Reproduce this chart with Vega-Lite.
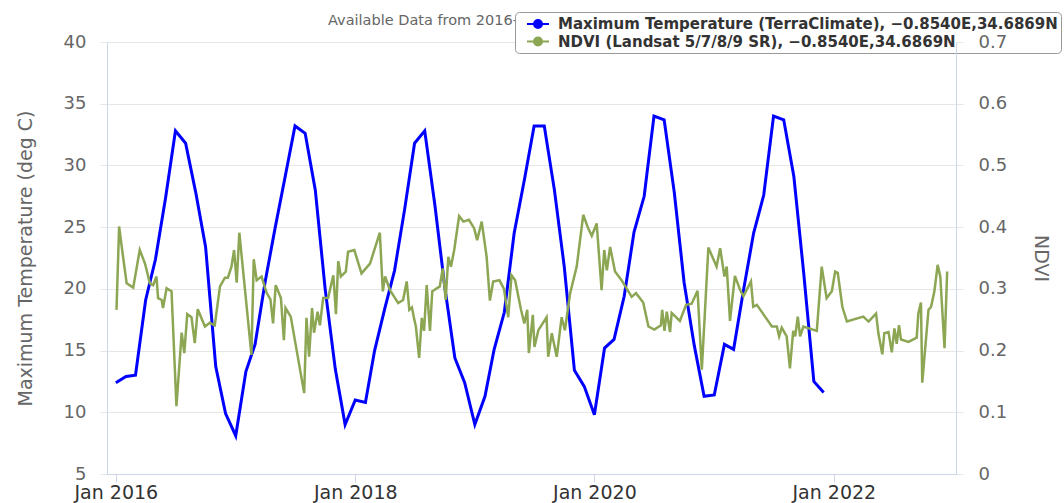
{
  "$schema": "https://vega.github.io/schema/vega-lite/v6.json",
  "width": 849,
  "height": 432,
  "autosize": {"type": "none"},
  "padding": {"left": 107, "top": 42, "right": 108, "bottom": 29},
  "background": "white",
  "title": {
    "text": "Available Data from 2016-01-01 to 2022-12-31",
    "anchor": "start",
    "frame": "group",
    "dx": 221,
    "dy": 48,
    "offset": 20,
    "baseline": "alphabetic",
    "font": "DejaVu Sans",
    "fontSize": 14.5,
    "fontWeight": "normal",
    "color": "#666666",
    "zindex": -1
  },
  "datasets": {
    "temp": [
      {"date": "2016-01-01", "t": 12.4}, {"date": "2016-02-01", "t": 12.9}, {"date": "2016-03-01", "t": 13.0},
      {"date": "2016-04-01", "t": 19.1}, {"date": "2016-05-01", "t": 22.4}, {"date": "2016-06-01", "t": 27.4},
      {"date": "2016-07-01", "t": 32.8}, {"date": "2016-08-01", "t": 31.8}, {"date": "2016-09-01", "t": 27.8},
      {"date": "2016-10-01", "t": 23.4}, {"date": "2016-11-01", "t": 13.7}, {"date": "2016-12-01", "t": 9.9},
      {"date": "2017-01-01", "t": 8.1}, {"date": "2017-02-01", "t": 13.3}, {"date": "2017-03-01", "t": 15.5},
      {"date": "2017-04-01", "t": 20.6}, {"date": "2017-05-01", "t": 24.9}, {"date": "2017-06-01", "t": 29.1},
      {"date": "2017-07-01", "t": 33.2}, {"date": "2017-08-01", "t": 32.6}, {"date": "2017-09-01", "t": 28.0},
      {"date": "2017-10-01", "t": 20.0}, {"date": "2017-11-01", "t": 13.5}, {"date": "2017-12-01", "t": 9.0},
      {"date": "2018-01-01", "t": 11.0}, {"date": "2018-02-01", "t": 10.8}, {"date": "2018-03-01", "t": 15.0},
      {"date": "2018-04-01", "t": 18.4}, {"date": "2018-05-01", "t": 21.5}, {"date": "2018-06-01", "t": 26.5},
      {"date": "2018-07-01", "t": 31.8}, {"date": "2018-08-01", "t": 32.8}, {"date": "2018-09-01", "t": 26.8},
      {"date": "2018-10-01", "t": 20.2}, {"date": "2018-11-01", "t": 14.4}, {"date": "2018-12-01", "t": 12.4},
      {"date": "2019-01-01", "t": 9.0}, {"date": "2019-02-01", "t": 11.3}, {"date": "2019-03-01", "t": 15.1},
      {"date": "2019-04-01", "t": 18.1}, {"date": "2019-05-01", "t": 24.5}, {"date": "2019-06-01", "t": 28.8},
      {"date": "2019-07-01", "t": 33.2}, {"date": "2019-08-01", "t": 33.2}, {"date": "2019-09-01", "t": 28.0},
      {"date": "2019-10-01", "t": 21.8}, {"date": "2019-11-01", "t": 13.4}, {"date": "2019-12-01", "t": 12.1},
      {"date": "2020-01-01", "t": 9.8}, {"date": "2020-02-01", "t": 15.2}, {"date": "2020-03-01", "t": 15.9},
      {"date": "2020-04-01", "t": 19.4}, {"date": "2020-05-01", "t": 24.6}, {"date": "2020-06-01", "t": 27.5},
      {"date": "2020-07-01", "t": 34.0}, {"date": "2020-08-01", "t": 33.7}, {"date": "2020-09-01", "t": 27.8},
      {"date": "2020-10-01", "t": 20.5}, {"date": "2020-11-01", "t": 15.4}, {"date": "2020-12-01", "t": 11.3},
      {"date": "2021-01-01", "t": 11.4}, {"date": "2021-02-01", "t": 15.5}, {"date": "2021-03-01", "t": 15.1},
      {"date": "2021-04-01", "t": 20.0}, {"date": "2021-05-01", "t": 24.5}, {"date": "2021-06-01", "t": 27.6},
      {"date": "2021-07-01", "t": 34.0}, {"date": "2021-08-01", "t": 33.7}, {"date": "2021-09-01", "t": 29.1},
      {"date": "2021-10-01", "t": 21.3}, {"date": "2021-11-01", "t": 12.5}, {"date": "2021-12-01", "t": 11.6}
    ],
    "ndvi": [
      {"date": "2016-01-03", "v": 0.266}, {"date": "2016-01-11", "v": 0.401}, {"date": "2016-01-23", "v": 0.352},
      {"date": "2016-02-03", "v": 0.309}, {"date": "2016-02-23", "v": 0.302}, {"date": "2016-03-14", "v": 0.363},
      {"date": "2016-03-30", "v": 0.341}, {"date": "2016-04-14", "v": 0.309}, {"date": "2016-04-24", "v": 0.306},
      {"date": "2016-05-04", "v": 0.320}, {"date": "2016-05-09", "v": 0.285}, {"date": "2016-05-20", "v": 0.282},
      {"date": "2016-05-24", "v": 0.269}, {"date": "2016-06-04", "v": 0.301}, {"date": "2016-06-19", "v": 0.296},
      {"date": "2016-07-04", "v": 0.110}, {"date": "2016-07-20", "v": 0.229}, {"date": "2016-07-28", "v": 0.196},
      {"date": "2016-08-06", "v": 0.259}, {"date": "2016-08-19", "v": 0.254}, {"date": "2016-08-29", "v": 0.212},
      {"date": "2016-09-07", "v": 0.267}, {"date": "2016-09-29", "v": 0.239}, {"date": "2016-10-14", "v": 0.245},
      {"date": "2016-10-29", "v": 0.241}, {"date": "2016-11-14", "v": 0.304}, {"date": "2016-11-29", "v": 0.318},
      {"date": "2016-12-08", "v": 0.318}, {"date": "2016-12-19", "v": 0.336}, {"date": "2016-12-27", "v": 0.363},
      {"date": "2017-01-04", "v": 0.310}, {"date": "2017-01-12", "v": 0.391}, {"date": "2017-02-18", "v": 0.193},
      {"date": "2017-02-25", "v": 0.348}, {"date": "2017-03-06", "v": 0.314}, {"date": "2017-03-21", "v": 0.320},
      {"date": "2017-04-05", "v": 0.294}, {"date": "2017-04-17", "v": 0.283}, {"date": "2017-04-25", "v": 0.244},
      {"date": "2017-05-03", "v": 0.306}, {"date": "2017-05-19", "v": 0.285}, {"date": "2017-05-28", "v": 0.217},
      {"date": "2017-06-02", "v": 0.269}, {"date": "2017-06-18", "v": 0.255}, {"date": "2017-07-29", "v": 0.131},
      {"date": "2017-08-05", "v": 0.253}, {"date": "2017-08-13", "v": 0.190}, {"date": "2017-08-22", "v": 0.269},
      {"date": "2017-08-28", "v": 0.229}, {"date": "2017-09-08", "v": 0.263}, {"date": "2017-09-15", "v": 0.241},
      {"date": "2017-09-25", "v": 0.285}, {"date": "2017-10-10", "v": 0.285}, {"date": "2017-10-26", "v": 0.322},
      {"date": "2017-11-03", "v": 0.259}, {"date": "2017-11-10", "v": 0.345}, {"date": "2017-11-18", "v": 0.320},
      {"date": "2017-12-03", "v": 0.328}, {"date": "2017-12-10", "v": 0.360}, {"date": "2017-12-29", "v": 0.363},
      {"date": "2018-01-20", "v": 0.325}, {"date": "2018-02-15", "v": 0.341}, {"date": "2018-03-17", "v": 0.391},
      {"date": "2018-03-26", "v": 0.296}, {"date": "2018-04-02", "v": 0.320}, {"date": "2018-04-17", "v": 0.298},
      {"date": "2018-05-12", "v": 0.277}, {"date": "2018-05-27", "v": 0.282}, {"date": "2018-06-07", "v": 0.312},
      {"date": "2018-06-15", "v": 0.266}, {"date": "2018-06-23", "v": 0.270}, {"date": "2018-06-29", "v": 0.253},
      {"date": "2018-07-05", "v": 0.239}, {"date": "2018-07-15", "v": 0.188}, {"date": "2018-07-23", "v": 0.253},
      {"date": "2018-07-30", "v": 0.232}, {"date": "2018-08-07", "v": 0.306}, {"date": "2018-08-17", "v": 0.232},
      {"date": "2018-08-24", "v": 0.296}, {"date": "2018-09-16", "v": 0.304}, {"date": "2018-09-25", "v": 0.333},
      {"date": "2018-10-04", "v": 0.282}, {"date": "2018-10-12", "v": 0.352}, {"date": "2018-10-20", "v": 0.336},
      {"date": "2018-10-30", "v": 0.363}, {"date": "2018-11-14", "v": 0.418}, {"date": "2018-11-27", "v": 0.409},
      {"date": "2018-12-14", "v": 0.412}, {"date": "2018-12-30", "v": 0.398}, {"date": "2019-01-08", "v": 0.379},
      {"date": "2019-01-22", "v": 0.409}, {"date": "2019-02-06", "v": 0.352}, {"date": "2019-02-16", "v": 0.281},
      {"date": "2019-02-26", "v": 0.312}, {"date": "2019-03-17", "v": 0.314}, {"date": "2019-03-31", "v": 0.300},
      {"date": "2019-04-13", "v": 0.254}, {"date": "2019-04-23", "v": 0.322}, {"date": "2019-05-04", "v": 0.314},
      {"date": "2019-05-22", "v": 0.266}, {"date": "2019-06-01", "v": 0.244}, {"date": "2019-06-10", "v": 0.266},
      {"date": "2019-06-15", "v": 0.196}, {"date": "2019-06-27", "v": 0.258}, {"date": "2019-07-02", "v": 0.206},
      {"date": "2019-07-14", "v": 0.233}, {"date": "2019-08-08", "v": 0.254}, {"date": "2019-08-13", "v": 0.190},
      {"date": "2019-08-24", "v": 0.228}, {"date": "2019-09-08", "v": 0.190}, {"date": "2019-09-23", "v": 0.254},
      {"date": "2019-10-03", "v": 0.233}, {"date": "2019-10-19", "v": 0.293}, {"date": "2019-11-08", "v": 0.336},
      {"date": "2019-11-28", "v": 0.420}, {"date": "2019-12-13", "v": 0.398}, {"date": "2019-12-24", "v": 0.386},
      {"date": "2020-01-08", "v": 0.406}, {"date": "2020-01-23", "v": 0.298}, {"date": "2020-01-31", "v": 0.363},
      {"date": "2020-02-08", "v": 0.330}, {"date": "2020-02-18", "v": 0.368}, {"date": "2020-03-04", "v": 0.328},
      {"date": "2020-03-24", "v": 0.314}, {"date": "2020-04-24", "v": 0.287}, {"date": "2020-05-07", "v": 0.293},
      {"date": "2020-05-29", "v": 0.278}, {"date": "2020-06-14", "v": 0.239}, {"date": "2020-07-02", "v": 0.234},
      {"date": "2020-07-22", "v": 0.241}, {"date": "2020-07-26", "v": 0.266}, {"date": "2020-08-02", "v": 0.232},
      {"date": "2020-08-09", "v": 0.263}, {"date": "2020-08-19", "v": 0.230}, {"date": "2020-08-24", "v": 0.261},
      {"date": "2020-09-18", "v": 0.248}, {"date": "2020-10-07", "v": 0.274}, {"date": "2020-10-24", "v": 0.276},
      {"date": "2020-11-11", "v": 0.297}, {"date": "2020-11-24", "v": 0.169}, {"date": "2020-12-14", "v": 0.367},
      {"date": "2021-01-08", "v": 0.336}, {"date": "2021-01-19", "v": 0.366}, {"date": "2021-02-01", "v": 0.320},
      {"date": "2021-02-08", "v": 0.336}, {"date": "2021-02-18", "v": 0.248}, {"date": "2021-03-05", "v": 0.321},
      {"date": "2021-03-21", "v": 0.298}, {"date": "2021-03-31", "v": 0.288}, {"date": "2021-04-23", "v": 0.312},
      {"date": "2021-04-30", "v": 0.271}, {"date": "2021-05-11", "v": 0.274}, {"date": "2021-06-05", "v": 0.255},
      {"date": "2021-06-26", "v": 0.239}, {"date": "2021-07-11", "v": 0.239}, {"date": "2021-07-18", "v": 0.223},
      {"date": "2021-07-26", "v": 0.237}, {"date": "2021-08-10", "v": 0.223}, {"date": "2021-08-20", "v": 0.171},
      {"date": "2021-08-30", "v": 0.232}, {"date": "2021-09-05", "v": 0.223}, {"date": "2021-09-13", "v": 0.255},
      {"date": "2021-09-20", "v": 0.223}, {"date": "2021-09-30", "v": 0.239}, {"date": "2021-11-10", "v": 0.232},
      {"date": "2021-11-25", "v": 0.336}, {"date": "2021-12-10", "v": 0.285}, {"date": "2021-12-26", "v": 0.296},
      {"date": "2022-01-05", "v": 0.328}, {"date": "2022-01-13", "v": 0.326}, {"date": "2022-01-27", "v": 0.271},
      {"date": "2022-02-10", "v": 0.247}, {"date": "2022-04-01", "v": 0.255}, {"date": "2022-04-17", "v": 0.247},
      {"date": "2022-05-10", "v": 0.260}, {"date": "2022-05-17", "v": 0.228}, {"date": "2022-05-29", "v": 0.194},
      {"date": "2022-06-04", "v": 0.228}, {"date": "2022-06-17", "v": 0.230}, {"date": "2022-06-27", "v": 0.197},
      {"date": "2022-07-05", "v": 0.236}, {"date": "2022-07-12", "v": 0.211}, {"date": "2022-07-19", "v": 0.241},
      {"date": "2022-07-25", "v": 0.218}, {"date": "2022-08-17", "v": 0.214}, {"date": "2022-09-11", "v": 0.221},
      {"date": "2022-09-16", "v": 0.260}, {"date": "2022-09-24", "v": 0.278}, {"date": "2022-09-28", "v": 0.148},
      {"date": "2022-10-17", "v": 0.266}, {"date": "2022-10-25", "v": 0.271}, {"date": "2022-11-04", "v": 0.296},
      {"date": "2022-11-14", "v": 0.339}, {"date": "2022-11-22", "v": 0.320}, {"date": "2022-12-05", "v": 0.204},
      {"date": "2022-12-13", "v": 0.328}
    ]
  },
  "layer": [
    {
      "data": {"name": "temp"},
      "mark": {"type": "line", "strokeWidth": 3, "interpolate": "linear"},
      "encoding": {
        "x": {
          "field": "date", "type": "temporal",
          "scale": {"domain": ["2015-12-05", "2023-01-09"]},
          "axis": {
            "title": null, "format": "%b %Y",
            "tickCount": {"interval": "year", "step": 2},
            "grid": false, "domainColor": "#ccd6eb", "tickColor": "#ccd6eb",
            "tickSize": 8, "labelPadding": 1, "labelFont": "DejaVu Sans",
            "labelFontSize": 19, "labelColor": "#333333", "labelFlush": false, "labelOverlap": false
          }
        },
        "y": {
          "field": "t", "type": "quantitative",
          "scale": {"domain": [5, 40], "nice": false, "zero": false},
          "axis": {
            "orient": "left", "values": [5, 10, 15, 20, 25, 30, 35, 40],
            "grid": true, "gridColor": "#e6e6e6", "domainColor": "#ccd6eb",
            "tickColor": "#e6e6e6", "tickSize": 7, "labelPadding": 14,
            "labelFont": "DejaVu Sans", "labelFontSize": 18, "labelColor": "#666666",
            "title": "Maximum Temperature (deg C)", "titleFont": "DejaVu Sans",
            "titleFontSize": 19, "titleFontWeight": "normal", "titleColor": "#666666",
            "titlePadding": 28
          }
        },
        "color": {
          "datum": "Maximum Temperature (TerraClimate), −0.8540E,34.6869N",
          "scale": {
            "domain": ["Maximum Temperature (TerraClimate), −0.8540E,34.6869N", "NDVI (Landsat 5/7/8/9 SR), −0.8540E,34.6869N"],
            "range": ["#0000ff", "#8ca654"]
          },
          "legend": {
            "orient": "none", "legendX": 408, "legendY": -30, "direction": "vertical",
            "title": null,
            "symbolType": "M0,0H2.75M1.875,0A0.5,0.5,0,1,1,0.875,0A0.5,0.5,0,1,1,1.875,0",
            "symbolSize": 256, "symbolStrokeWidth": 2,
            "labelFont": "DejaVu Sans", "labelFontSize": 15, "labelFontWeight": "bold",
            "labelColor": "#333333", "labelOffset": 22, "labelLimit": 800,
            "rowPadding": 0.5, "padding": 3, "fillColor": "white", "strokeColor": "#999999",
            "cornerRadius": 4, "zindex": 5,
            "encode": {"symbols": {"update": {"fill": {"scale": "color", "field": "value"}}}}
          }
        }
      }
    },
    {
      "data": {"name": "ndvi"},
      "mark": {"type": "line", "strokeWidth": 2.5, "interpolate": "linear"},
      "encoding": {
        "x": {"field": "date", "type": "temporal"},
        "y": {
          "field": "v", "type": "quantitative",
          "scale": {"domain": [0, 0.7], "nice": false},
          "axis": {
            "orient": "right", "values": [0, 0.1, 0.2, 0.3, 0.4, 0.5, 0.6, 0.7], "format": ".1~f",
            "grid": false, "domainColor": "#ccd6eb", "tickColor": "#e6e6e6", "tickSize": 7,
            "labelPadding": 15, "labelFont": "DejaVu Sans", "labelFontSize": 18, "labelColor": "#666666",
            "title": "NDVI", "titleFont": "DejaVu Sans", "titleFontSize": 19,
            "titleFontWeight": "normal", "titleColor": "#666666", "titlePadding": 24,
            "zindex": 8
          }
        },
        "color": {"datum": "NDVI (Landsat 5/7/8/9 SR), −0.8540E,34.6869N"}
      }
    }
  ],
  "resolve": {"scale": {"y": "independent"}},
  "config": {"view": {"stroke": null}}
}
